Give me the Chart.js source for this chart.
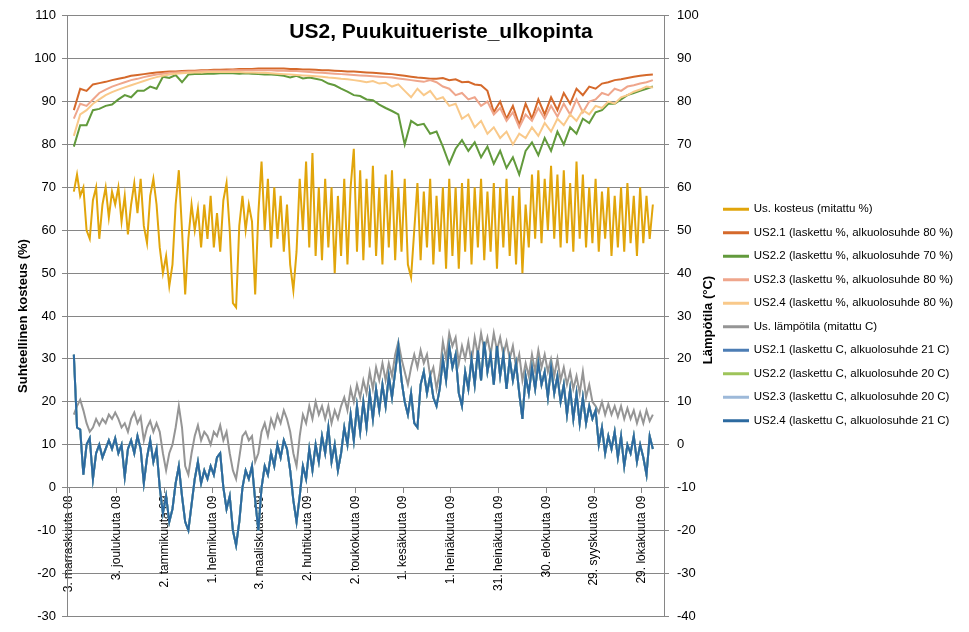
<!DOCTYPE html>
<html>
<head>
<meta charset="utf-8">
<script src="https://cdn.jsdelivr.net/npm/chart.js@4.4.1/dist/chart.umd.min.js"></script>
<style>
  html, body { margin: 0; padding: 0; background: #fff; }
  canvas { display: block; }
</style>
</head>
<body>
<canvas id="US2-Chart" width="969" height="632"></canvas>
<script>
// x axis: days counted from 3. marraskuuta 2008
const tickDays = [0, 30, 60, 90, 120, 150, 180, 210, 240, 270, 300, 330, 360];
const tickLabels = ['3. marraskuuta 08', '3. joulukuuta 08', '2. tammikuuta 09', '1. helmikuuta 09',
  '3. maaliskuuta 09', '2. huhtikuuta 09', '2. toukokuuta 09', '1. kesäkuuta 09', '1. heinäkuuta 09',
  '31. heinäkuuta 09', '30. elokuuta 09', '29. syyskuuta 09', '29. lokakuuta 09'];

// measured values, one reading every 2 days from day 3
const measRh = [
  69, 73, 68, 70, 60, 58, 67, 70, 58, 66,
  70, 63, 69, 66, 70, 62, 68, 59, 66, 71,
  64, 72, 61, 57, 68, 72, 66, 56, 50, 54,
  47, 52, 66, 74, 60, 45, 58, 66, 60, 65,
  56, 66, 58, 68, 56, 64, 55, 67, 71, 60,
  43, 42, 61, 68, 60, 66, 62, 45, 64, 76,
  60, 72, 56, 70, 58, 68, 55, 66, 52, 46,
  55, 72, 60, 76, 56, 78, 54, 70, 53, 72,
  56, 70, 50, 68, 54, 72, 52, 70, 79, 55,
  74, 53, 72, 56, 75, 54, 70, 52, 73, 56,
  74, 53, 70, 55, 72, 52, 49, 60, 71, 53,
  69, 56, 72, 52, 68, 55, 70, 51, 72, 54,
  70, 51, 71, 55, 72, 52, 70, 56, 72, 53,
  69, 55, 71, 51, 70, 56, 72, 54, 68, 52,
  70, 50, 66, 56, 73, 58, 74, 57, 72, 60,
  75, 58, 73, 56, 74, 57, 71, 55, 76, 58,
  73, 56, 70, 57, 72, 55, 69, 58, 70, 54,
  68, 56, 70, 55, 71, 57, 68, 54, 70, 57,
  68, 58, 66
];
const measTemp = [
  7, 9, 10.5, 8, 5, 3, 4, 6, 4.5, 6,
  5, 7, 6, 7.5, 6, 4, 5, 3, 6, 7.5,
  5, 6.5, 1, 4, 5.5, 3, 5, 3, -2, -6,
  -2, 0, 4, 9, 4, -5, -7, -2, 2, 4.5,
  1, 3, 2, 0, 3, 2, 4.5, 1, 3, -2,
  -6, -8, -3, 2, 3, 1, 2, -4, -2, 3,
  5, 2, 6, 4, 7, 5, 8, 6, 3, -2,
  -5, 2, 7, 5, 9, 6, 10, 7, 9, 6,
  9, 5, 8, 6, 9, 11, 8, 13, 10, 14,
  11, 15, 12, 17, 13, 18, 15, 19, 15, 19,
  16, 21, 24, 20, 17, 14, 18, 21, 18, 22,
  19, 21, 16, 18, 13, 17, 24, 20, 26, 23,
  25, 19, 23, 20, 24, 19, 25, 21, 26, 22,
  25, 21, 26, 22, 25, 21, 24, 20, 23, 18,
  21, 15, 19, 16, 21, 17, 22, 18, 21, 17,
  20, 16, 20, 15, 18, 14, 17, 13, 16, 12,
  17, 11, 14, 10, 9, 7.5, 10, 7, 9.5, 7,
  9, 6.5, 9, 6, 8.5, 6, 8, 5, 7.5, 5,
  8, 5.5, 7
];
// calculated temperature (same for US2.1 - US2.4)
const calcTemp = [
  21, 4, 3.5, -7, 0, 1.5, -8, -2, 0, -3,
  -1, 1, -1, 1.5, -2, 0, -7.5, -1, 1, -2,
  2, -1, -9, -3, 1, -4, -1, -10, -16, -12,
  -18, -15, -9, -5, -12, -18, -20, -14, -8, -4,
  -9, -6, -8, -5, -7, -3, -2, -10, -15, -12,
  -20, -23.5, -18, -10, -6, -8, -5, -13, -20, -10,
  -5, -7, -2, -5, 0, -3, 1, -1, -6, -13,
  -18, -12, -5, -8, -1, -6, 0, -4, 2, -2,
  4, -4, 0, -6, -2, 4, 0, 7, 1, 9,
  3, 10, 4, 12, 6, 13, 8, 14, 9, 16,
  11, 17, 23, 15, 10, 7, 12, 5, 4, 14,
  17, 12, 16, 11, 9, 13, 20, 15, 23, 18,
  21, 12, 9, 17, 13, 20, 14, 22, 15, 24,
  17, 21, 14, 23, 16, 21, 13, 20, 15, 19,
  12, 6, 16, 12, 18, 13, 19, 14, 17, 11,
  18, 12, 16, 10, 14, 7, 13, 6, 12, 5,
  11, 5, 9, 6, 8, 0, 4, -2, 2, -1,
  3, -3, 2, -5, 0, -2, 2, -4, 0, -3,
  -7, 2, -1
];

// calculated humidity, one value every 4 days from day 3
const calcRh1 = [
  88, 93, 92.5, 94, 94.3, 94.6, 95, 95.3, 95.6, 96,
  96.2, 96.4, 96.6, 96.8, 96.9, 97, 97, 97.1, 97.2, 97.2,
  97.3, 97.3, 97.4, 97.4, 97.5, 97.5, 97.6, 97.6, 97.6, 97.7,
  97.7, 97.7, 97.7, 97.7, 97.6, 97.6, 97.5, 97.5, 97.4, 97.3,
  97.3, 97.2, 97.1, 97, 97, 96.9, 96.8, 96.7, 96.6, 96.5,
  96.4, 96.2, 96, 95.8, 95.6, 95.5, 95.3, 95.3, 95.5, 95,
  95.2, 94.5, 94.6, 94, 93.8, 92.5, 87.5, 90, 86, 89,
  84.5, 89.5, 86, 90.5, 87, 91, 88, 92, 89.5, 93,
  91.5, 93.5, 93, 94.2, 94.5, 95, 95.2, 95.5, 95.8, 96,
  96.2, 96.3
];
const calcRh2 = [
  79.5, 84.5, 84.5, 88, 88.3, 89, 89.3, 90.5, 91.5, 91,
  92.5, 92.5, 93.5, 93, 95.8, 95.5, 96.2, 94.5, 96.3, 96.4,
  96.4, 96.5, 96.5, 96.6, 96.6, 96.6, 96.5, 96.6, 96.5, 96.4,
  96.3, 96.3, 96.2, 96, 95.6, 96, 95.4, 95.6, 95.3, 95,
  94.2, 93.8, 93, 92.3, 91.5, 91.3, 90.5, 90.3, 89.3, 88.5,
  87.8, 87, 80, 85.5, 84.5, 84.8, 82.5, 83, 79.5, 75.5,
  79, 81, 78.5, 80.5, 77, 79.5, 75.5, 78.5, 74.5, 77,
  73, 78.5, 80.5, 77.5, 81.5, 78.5, 83, 80, 84, 82.5,
  86, 85, 87.5, 88, 89.5, 89.5, 90.5, 91.5, 92, 92.5,
  93, 93.5
];
const calcRh3 = [
  86, 89.5, 89, 90.5, 92, 92.8, 93.5, 94, 94.5, 95,
  95.3, 95.7, 96, 96.3, 96.5, 96.7, 96.8, 96.9, 97, 97,
  97.1, 97.1, 97.2, 97.2, 97.2, 97.3, 97.3, 97.3, 97.3, 97.3,
  97.3, 97.3, 97.2, 97.2, 97.1, 97.1, 97, 96.9, 96.8, 96.7,
  96.6, 96.5, 96.4, 96.3, 96.2, 96.1, 96, 95.9, 95.8, 95.7,
  95.6, 95.4, 95.2, 95, 94.8, 94.6, 95, 94.5, 93.5, 93,
  91.5, 92, 90.5, 91, 89, 90, 87, 88.5, 85.5, 87.5,
  84, 87, 85.5, 88.5, 86, 89, 86.5, 89.5, 87, 90.5,
  87.5, 90, 90.5, 92, 91.5, 93, 92.5, 93.5, 93.8, 94.2,
  94.5, 95
];
const calcRh4 = [
  82, 87, 88, 89.5, 90.5, 91.5, 92.2, 92.8, 93.3, 93.8,
  94.3, 94.8, 95.3, 95.7, 96, 96.3, 96.5, 96.6, 96.7, 96.8,
  96.8, 96.9, 96.9, 96.9, 96.9, 96.9, 96.9, 96.8, 96.8, 96.7,
  96.7, 96.6, 96.5, 96.4, 96.3, 96.2, 96.1, 96, 95.9, 95.8,
  95.6, 95.5, 95.3, 95.2, 95, 94.8, 94.5, 94.8, 94.2, 94.4,
  93.5, 94, 92.5, 91, 93, 91.5, 92.5, 90.5, 91, 89,
  89.5, 86, 87, 84, 85.5, 82.5, 84, 81.5, 83, 80,
  82.5, 81.5, 84, 82, 85, 83, 86, 84.5, 87, 85.5,
  88, 87, 89, 88.5, 90, 89.5, 91, 91.5, 92.3, 92.8,
  93.5, 93.3
];

const measDays = measRh.map((v, i) => 3 + i * 2);
const calcDays = calcRh1.map((v, i) => 3 + i * 4);

const gridGray = '#868686';
const fontName = '"Liberation Sans", Arial, sans-serif';

function points(days, values) {
  return values.map((v, i) => ({x: days[i], y: v}));
}

const series = [
  {label: 'Us. kosteus (mitattu %)', data: points(measDays, measRh), color: '#E1A50B', axis: 'y'},
  {label: 'US2.1 (laskettu %, alkuolosuhde 80 %)', data: points(calcDays, calcRh1), color: '#D5692B', axis: 'y'},
  {label: 'US2.2 (laskettu %, alkuolosuhde 70 %)', data: points(calcDays, calcRh2), color: '#629A3C', axis: 'y'},
  {label: 'US2.3 (laskettu %, alkuolosuhde 80 %)', data: points(calcDays, calcRh3), color: '#EFA68C', axis: 'y'},
  {label: 'US2.4 (laskettu %, alkuolosuhde 80 %)', data: points(calcDays, calcRh4), color: '#F9C98A', axis: 'y'},
  {label: 'Us. lämpötila (mitattu C)', data: points(measDays, measTemp), color: '#959595', axis: 'y1'},
  {label: 'US2.1 (laskettu C, alkuolosuhde 21 C)', data: points(measDays, calcTemp), color: '#4C7DB4', axis: 'y1'},
  {label: 'US2.2 (laskettu C, alkuolosuhde 20 C)', data: points(measDays, calcTemp), color: '#9EC45A', axis: 'y1'},
  {label: 'US2.3 (laskettu C, alkuolosuhde 20 C)', data: points(measDays, calcTemp), color: '#9DB9D9', axis: 'y1'},
  {label: 'US2.4 (laskettu C, alkuolosuhde 21 C)', data: points(measDays, calcTemp), color: '#2C6AA0', axis: 'y1'}
];

// chart title and right axis title sit where Excel puts them
const extraText = {
  id: 'extraText',
  afterDraw(chart) {
    const ctx = chart.ctx;
    ctx.save();
    ctx.fillStyle = '#000';
    ctx.font = 'bold 21px ' + fontName;
    ctx.textAlign = 'center';
    ctx.textBaseline = 'middle';
    ctx.fillText('US2, Puukuitueriste_ulkopinta', 441, 32);
    ctx.translate(708, 320);
    ctx.rotate(-Math.PI / 2);
    ctx.font = 'bold 13px ' + fontName;
    ctx.fillText('Lämpötila (°C)', 0, 0);
    ctx.restore();
  }
};

const us2 = document.getElementById('US2-Chart').getContext('2d');
const us2Chart = new Chart(us2, {
  type: 'line',
  data: {
    datasets: series.map((s, i) => ({
      label: s.label,
      data: s.data,
      yAxisID: s.axis,
      borderColor: s.color,
      backgroundColor: s.color,
      borderWidth: 2,
      pointRadius: 0,
      tension: 0,
      order: -i
    }))
  },
  options: {
    responsive: false,
    animation: false,
    layout: {
      padding: {left: 0, right: 8, top: 13, bottom: 15}
    },
    scales: {
      x: {
        type: 'linear',
        position: {y: 0},
        min: -1.3,
        max: 374,
        afterBuildTicks: (scale) => {
          scale.ticks = tickDays.map((d) => ({value: d}));
        },
        ticks: {
          autoSkip: false,
          maxRotation: 90,
          minRotation: 90,
          padding: 3,
          color: '#000',
          font: {family: fontName, size: 12},
          callback: (value) => tickLabels[tickDays.indexOf(value)]
        },
        grid: {
          drawOnChartArea: false,
          color: gridGray,
          tickLength: 5
        },
        border: {
          color: gridGray
        }
      },
      y: {
        position: 'left',
        min: -30,
        max: 110,
        ticks: {
          stepSize: 10,
          padding: 6,
          color: '#000',
          font: {family: fontName, size: 13}
        },
        grid: {
          color: gridGray,
          tickLength: 5
        },
        border: {
          color: gridGray
        },
        title: {
          display: true,
          text: 'Suhteellinen kosteus (%)',
          color: '#000',
          font: {family: fontName, size: 13, weight: 'bold'},
          padding: {top: 16, bottom: 4}
        },
        afterFit: (scale) => {
          scale.width = 67;
        }
      },
      y1: {
        position: 'right',
        min: -40,
        max: 100,
        ticks: {
          stepSize: 10,
          padding: 8,
          color: '#000',
          font: {family: fontName, size: 13}
        },
        grid: {
          drawOnChartArea: false,
          color: gridGray,
          tickLength: 5
        },
        border: {
          color: gridGray
        },
        afterFit: (scale) => {
          scale.width = 48;
        }
      }
    },
    plugins: {
      legend: {
        position: 'right',
        maxWidth: 249,
        labels: {
          boxWidth: 24,
          boxHeight: 1,
          padding: 12,
          color: '#000',
          font: {family: fontName, size: 11.5},
          sort: (a, b) => a.datasetIndex - b.datasetIndex
        }
      },
      tooltip: {
        enabled: false
      }
    }
  },
  plugins: [extraText]
});
</script>
</body>
</html>
